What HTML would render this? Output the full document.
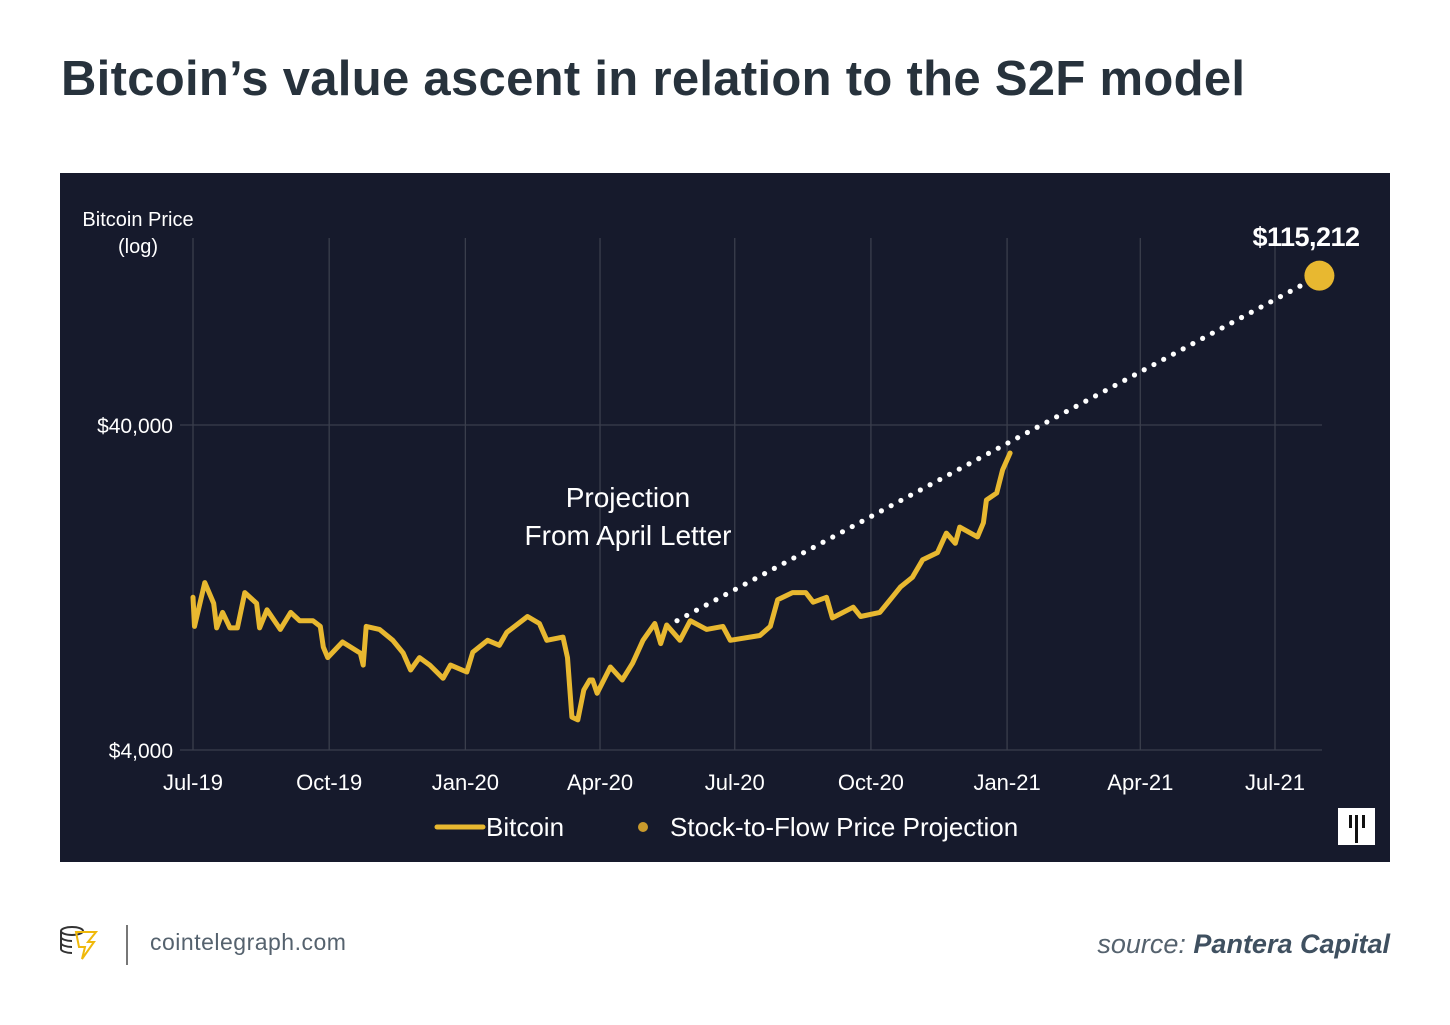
<!DOCTYPE html>
<html><head><meta charset="utf-8">
<style>
html,body{margin:0;padding:0;background:#fff;width:1450px;height:1025px;overflow:hidden;font-family:"Liberation Sans",sans-serif}
#title{position:absolute;left:61px;top:51px;font-size:49px;font-weight:bold;color:#27323c;letter-spacing:0.3px;white-space:nowrap}
#panel{position:absolute;left:60px;top:173px;width:1330px;height:689px;background:#161a2c}
#footer-site{position:absolute;left:150px;top:929px;font-size:23px;color:#55626e;letter-spacing:0.5px}
#footer-src{position:absolute;right:60px;top:929px;font-size:27px;color:#55626e;font-style:italic}
#footer-src b{color:#3f5060}
</style></head><body>
<div id="title">Bitcoin’s value ascent in relation to the S2F model</div>
<div id="panel"></div>
<svg id="chart" width="1450" height="1025" style="position:absolute;left:0;top:0"></svg>
<svg width="50" height="50" style="position:absolute;left:58px;top:922px">
<g fill="none" stroke="#333" stroke-width="2"><ellipse cx="14" cy="9" rx="11" ry="4"/><path d="M3 9v6c0 2 5 4 11 4M3 15v6c0 2 5 4 11 4M3 21v6c0 2 5 4 11 4"/></g>
<path d="M18 10h20l-8 10h6l-12 17 3-12h-6z" fill="none" stroke="#f0b90b" stroke-width="2"/>
</svg>
<div style="position:absolute;left:126px;top:925px;width:2px;height:40px;background:#777"></div>
<div id="footer-site">cointelegraph.com</div>
<div id="footer-src">source: <b>Pantera Capital</b></div>
<script>
const btcDays=[0,1,8,14,16,20,25,30,35,43,45,50,59,66,72,81,86,88,91,101,113,115,117,126,135,142,147,153,160,169,174,185,189,199,207,212,226,234,239,250,253,256,260,264,268,270,273,282,290,297,304,312,316,320,329,336,347,358,363,383,390,395,405,414,419,428,432,446,451,464,471,478,486,493,503,509,515,518,530,534,536,543,547,552];
const btcPrices=[11800,9600,13100,11300,9500,10600,9500,9500,12200,11300,9500,10800,9400,10600,10000,10000,9600,8300,7700,8600,7950,7300,9600,9400,8700,7950,7050,7700,7300,6650,7300,6950,8000,8700,8400,9200,10300,9800,8700,8900,7700,5050,4950,6120,6570,6570,5980,7200,6570,7400,8700,9800,8500,9700,8700,10000,9400,9600,8700,9000,9600,11600,12200,12200,11400,11800,10200,11000,10300,10600,11600,12700,13600,15400,16200,18600,17300,19400,18100,20000,23500,24700,29100,32800];
const projDays=[327,761];
const projPrices=[10000,115212];
const yTicks=[4000,40000];
const yTickLabels=["$4,000","$40,000"];
const xTickDays=[0,92,184,275,366,458,550,640,731];
const xTickLabels=["Jul-19","Oct-19","Jan-20","Apr-20","Jul-20","Oct-20","Jan-21","Apr-21","Jul-21"];
const NS="http://www.w3.org/2000/svg";
const svg=document.getElementById('chart');
const X=d=>193+d*(1275-193)/731;
const Y=p=>750-325*Math.log10(p/4000);
function mk(tag,attrs,parent){const e=document.createElementNS(NS,tag);for(const k in attrs)e.setAttribute(k,attrs[k]);(parent||svg).appendChild(e);return e;}
xTickDays.forEach((d,i)=>{
 const g=mk('line',{x1:X(d),x2:X(d),y1:238,y2:750,stroke:'#3a3e4c','stroke-width':1.3});
 
 
 const t=mk('text',{x:X(d),y:790,'text-anchor':'middle',fill:'#fff','font-size':22,'font-family':'Liberation Sans, sans-serif'});
 t.textContent=xTickLabels[i];
 
 
});
yTicks.forEach((p,i)=>{
 const g=mk('line',{x1:180,x2:1322,y1:Y(p),y2:Y(p),stroke:'#3a3e4c','stroke-width':1.3});
 
 
 const t=mk('text',{x:173,y:Y(p)+8,'text-anchor':'end',fill:'#fff','font-size':21,'font-family':'Liberation Sans, sans-serif'});
 t.textContent=yTickLabels[i];
 
 
});
const yt1=mk('text',{x:138,y:226,'text-anchor':'middle',fill:'#fff','font-size':20,'font-family':'Liberation Sans, sans-serif'});
yt1.textContent='Bitcoin Price';


const yt2=mk('text',{x:138,y:253,'text-anchor':'middle',fill:'#fff','font-size':20,'font-family':'Liberation Sans, sans-serif'});
yt2.textContent='(log)';


const pts=btcDays.map((d,i)=>X(d).toFixed(1)+','+Y(btcPrices[i]).toFixed(1)).join(' ');
const bl=mk('polyline',{points:pts,fill:'none',stroke:'#e8b830','stroke-width':5,'stroke-linejoin':'round','stroke-linecap':'round'});


const x0=X(projDays[0]),y0=Y(projPrices[0]),x1=X(projDays[1]),y1=Y(projPrices[1]);
const len=Math.hypot(x1-x0,y1-y0),n=Math.floor(len/11);
for(let i=0;i<n-1;i++){
 const c=mk('circle',{cx:x0+(x1-x0)*i/n,cy:y0+(y1-y0)*i/n,r:2.6,fill:'#fff'});
 
 
}
const ep=mk('circle',{cx:x1,cy:y1,r:15,fill:'#e8b830'});


const el=mk('text',{x:1306,y:246,'text-anchor':'middle',fill:'#fff','font-size':27,'font-weight':'bold','font-family':'Liberation Sans, sans-serif','letter-spacing':'-0.5'});
el.textContent='$'+projPrices[1].toLocaleString('en-US');


['Projection','From April Letter'].forEach((s,i)=>{
 const t=mk('text',{x:628,y:507+i*38,'text-anchor':'middle',fill:'#fff','font-size':28,'font-family':'Liberation Sans, sans-serif'});
 t.textContent=s;
 
 
});
const lg=mk('line',{x1:437,x2:483,y1:827,y2:827,stroke:'#e8b830','stroke-width':5,'stroke-linecap':'round'});


const l1=mk('text',{x:486,y:836,fill:'#fff','font-size':26,'font-family':'Liberation Sans, sans-serif'});
l1.textContent='Bitcoin';


const lc=mk('circle',{cx:643,cy:827,r:5,fill:'#c99a2c'});


const l2=mk('text',{x:670,y:836,fill:'#fff','font-size':26,'font-family':'Liberation Sans, sans-serif'});
l2.textContent='Stock-to-Flow Price Projection';


const pb=mk('rect',{x:1338,y:808,width:37,height:37,fill:'#fff'});


[[1349,815,7],[1355,815,22],[1362,815,7]].forEach(a=>{mk('rect',{x:a[0],y:a[1],width:3,height:a[2]+6,fill:'#111'});});
</script>
</body></html>
